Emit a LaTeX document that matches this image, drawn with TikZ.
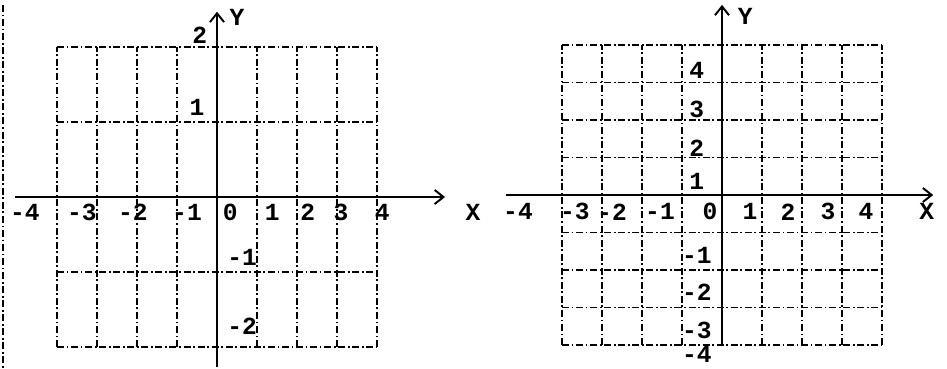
\documentclass[tikz,border=0pt]{standalone}
\usepackage{fontspec}
\setmonofont{Liberation Mono}
\usetikzlibrary{arrows.meta}
\tikzstyle{every node}=[font=\ttfamily\bfseries\fontsize{14}{16}\selectfont, inner sep=0pt]
\tikzstyle{gridline}=[line width=0.9pt, dash pattern=on 4pt off 1.5pt on 1pt off 1.5pt]
\tikzstyle{axis}=[line width=1.1pt]
\tikzstyle{tip}=[-{Straight Barb[length=5pt, width=8pt]}]

\begin{document}
\begin{tikzpicture}
\useasboundingbox (0,0) rectangle (18.94,-7.36);
% Margin
    \draw[gridline] (0.06,-0.1) -- (0.06,-7.36);
% Left plane
\begin{scope}[shift={(4.34,-3.94)}, x=0.8cm, y=1.5cm]
    \foreach \i in {-4,...,4}
        \draw[gridline] (\i,-2) -- (\i,2);
    \foreach \j in {-2,-1,1,2}
        \draw[gridline] (-4,\j) -- (4,\j);
    \draw[axis, tip] (-5.05,0) -- (5.7,0);
    \draw[axis, tip] (0,-2.27) -- (0,2.47);
    \node (lX) at (6.4,-0.2) {X};
    \node (lY) at (0.5,2.4) {Y};
    \foreach \lab/\px [count=\k] in {-4/-4.8, -3/-3.38, -2/-2.1, -1/-0.75, 0/0.33, 1/1.38, 2/2.27, 3/3.1, 4/4.13}
        \node (lx\k) at (\px,-0.21) {\lab};
    \foreach \lab/\px/\py [count=\k] in {2/-0.43/2.16, 1/-0.5/1.19, -1/0.63/-0.8, -2/0.63/-1.73}
        \node (ly\k) at (\px,\py) {\lab};
\end{scope}
% Right plane
\begin{scope}[shift={(14.44,-3.9)}, x=0.8cm, y=0.75cm]
    \foreach \i in {-4,...,4}
        \draw[gridline] (\i,-4) -- (\i,4);
    \foreach \j in {-4,...,-1,1,2,3,4}
        \draw[gridline] (-4,\j) -- (4,\j);
    \draw[axis, tip] (-5.4,0) -- (5.28,0);
    \draw[axis, tip] (0,-4) -- (0,5.07);
    \node (rX) at (5.12,-0.45) {X};
    \node (rY) at (0.58,4.75) {Y};
    \foreach \lab/\px [count=\k] in {-4/-5.1, -3/-3.68, -2/-2.75, -1/-1.55, 0/-0.3, 1/0.7, 2/1.65, 3/2.65, 4/3.6}
        \node (rx\k) at (\px,-0.45) {\lab};
    \foreach \lab/\py [count=\k] in {4/3.33, 3/2.27, 2/1.25, 1/0.35, -1/-1.6, -2/-2.6, -3/-3.6, -4/-4.25}
        \node (ry\k) at (-0.63,\py) {\lab};
\end{scope}
\end{tikzpicture}
\end{document}
